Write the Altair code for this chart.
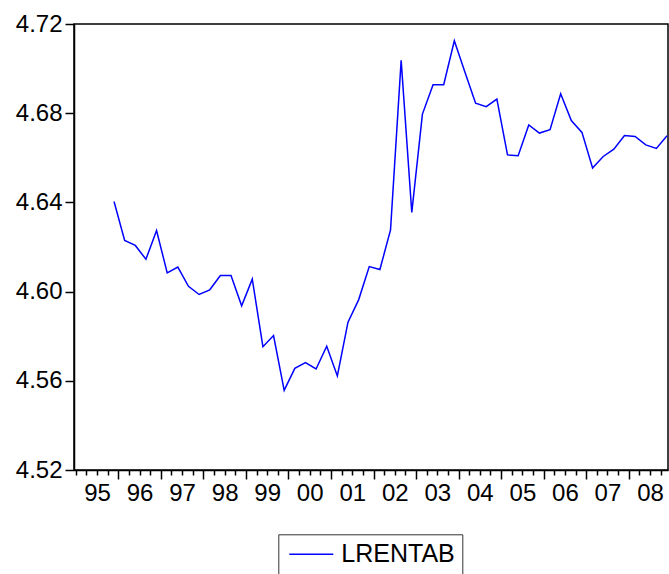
import altair as alt
import pandas as pd

# Quarterly observations 1995Q4 .. 2008Q4
quarters = [f"{y}Q{q}" for y in range(1995, 2009) for q in range(1, 5)][3:]
values = [
    4.6404, 4.6229, 4.6207, 4.6145, 4.6274, 4.6084, 4.6110, 4.6024,
    4.5987, 4.6008, 4.6072, 4.6072, 4.5936, 4.6056, 4.5753, 4.5803,
    4.5557, 4.5656, 4.5682, 4.5653, 4.5755, 4.5622, 4.5863, 4.5963,
    4.6112, 4.6099, 4.6277, 4.7037, 4.6355, 4.6796, 4.6928, 4.6928,
    4.7125, 4.6984, 4.6845, 4.6829, 4.6863, 4.6613, 4.6609, 4.6747,
    4.6711, 4.6726, 4.6887, 4.6767, 4.6714, 4.6554, 4.6606, 4.6639,
    4.6700, 4.6696, 4.6658, 4.6642, 4.6699,
]
series_name = "LRENTAB"
y_ticks = [4.52, 4.56, 4.60, 4.64, 4.68, 4.72]
x_ticks = [1995 + 0.25 * i for i in range(56)]

df = pd.DataFrame({"quarter": quarters, "value": values})
df["t"] = [int(s[:4]) + (int(s[-1]) - 1) / 4 + 0.15 for s in df["quarter"]]
df["series"] = series_name

FONT = "Liberation Sans"

chart = (
    alt.Chart(df)
    .mark_line(strokeWidth=1.5)
    .encode(
        x=alt.X(
            "t:Q",
            scale=alt.Scale(domain=[1994.959, 2008.923], nice=False, zero=False),
            axis=alt.Axis(
                title=None,
                values=x_ticks,
                grid=False,
                tickSize={
                    "condition": {
                        "test": "datum.value % 1 === 0 && datum.value > 1995",
                        "value": 9,
                    },
                    "value": 5,
                },
                labelExpr="(datum.value - floor(datum.value)) === 0.5 ? ((floor(datum.value) % 100 < 10 ? '0' : '') + (floor(datum.value) % 100)) : ''",
                labelOverlap=False,
                labelFlush=False,
                labelBound=False,
                labelPadding=6,
            ),
        ),
        y=alt.Y(
            "value:Q",
            scale=alt.Scale(domain=[4.52, 4.72], nice=False, zero=False),
            axis=alt.Axis(
                title=None,
                values=y_ticks,
                format=".2f",
                grid=False,
                tickSize=9,
                labelPadding=3,
            ),
        ),
        color=alt.Color(
            "series:N",
            scale=alt.Scale(domain=[series_name], range=["#0000FF"]),
            legend=alt.Legend(
                title=None,
                orient="none",
                legendX=204.3,
                legendY=510.3,
                symbolType="M-0.9,0H3.5",
                symbolSize=400,
                symbolStrokeWidth=1.5,
                symbolFillColor="transparent",
                labelFontSize=25,
                labelFont=FONT,
                labelColor="#000000",
                labelOffset=30.5,
                padding=7.5,
                strokeColor="#333333",
                fillColor="#FFFFFF",
            ),
        ),
    )
    .properties(
        width=594,
        height=446,
        autosize=alt.AutoSizeParams(type="none"),
        padding={"left": 74, "top": 24, "right": 1, "bottom": 104},
    )
    .configure_view(stroke="#000000", strokeWidth=1.5)
    .configure_axis(
        domainColor="#000000",
        domainWidth=1.5,
        tickColor="#000000",
        tickWidth=1.5,
        labelFont=FONT,
        labelFontSize=24,
        labelColor="#000000",
    )
)

chart.save("out.html", embed_options={"renderer": "svg", "actions": False})
